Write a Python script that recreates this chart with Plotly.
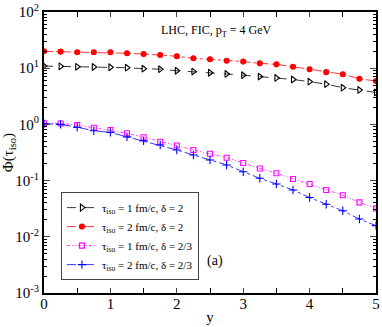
import plotly.graph_objects as go

# rapidity grid
y_vals = [0, 0.25, 0.5, 0.75, 1, 1.25, 1.5, 1.75, 2, 2.25, 2.5, 2.75, 3,
          3.25, 3.5, 3.75, 4, 4.25, 4.5, 4.75, 5]

# tau_iso = 1 fm/c, delta = 2
phi_t1_d2 = [10.9, 10.8, 10.6, 10.5, 10.4, 10.2, 9.8, 9.6, 9.0, 8.7, 8.3,
             7.9, 7.5, 7.1, 6.7, 6.3, 5.75, 5.2, 4.5, 4.1, 3.7]
# tau_iso = 2 fm/c, delta = 2
phi_t2_d2 = [20.0, 19.7, 19.2, 19.2, 19.2, 18.4, 17.9, 17.2, 16.3, 15.0, 14.4,
             13.6, 13.1, 12.2, 11.7, 10.6, 9.6, 8.5, 7.8, 6.5, 5.9]
# tau_iso = 1 fm/c, delta = 2/3
phi_t1_d23 = [1.05, 1.04, 0.975, 0.87, 0.795, 0.695, 0.59, 0.49, 0.42, 0.35,
              0.30, 0.255, 0.206, 0.164, 0.135, 0.107, 0.087, 0.068, 0.055,
              0.041, 0.032]
# tau_iso = 2 fm/c, delta = 2/3
phi_t2_d23 = [1.03, 1.0, 0.89, 0.77, 0.72, 0.60, 0.51, 0.43, 0.35, 0.285,
              0.233, 0.19, 0.144, 0.110, 0.087, 0.068, 0.050, 0.038, 0.029,
              0.0207, 0.0158]

names = ["τ<sub>iso</sub> = 1 fm/c, δ = 2",
         "τ<sub>iso</sub> = 2 fm/c, δ = 2",
         "τ<sub>iso</sub> = 1 fm/c, δ = 2/3",
         "τ<sub>iso</sub> = 2 fm/c, δ = 2/3"]

y_tickvals = [1e-3, 1e-2, 1e-1, 1, 10, 100]
y_ticktext = ["10<sup>-3</sup>", "10<sup>-2</sup>", "10<sup>-1</sup>",
              "10<sup>0</sup>", "10<sup>1</sup>", "10<sup>2</sup>"]

FONT = "Liberation Serif, Times New Roman, serif"

styles = [
    dict(color="black", dash="dash", symbol="triangle-right-open", size=6),
    dict(color="red", dash="dashdot", symbol="circle", size=5),
    dict(color="magenta", dash="3px,2px,1px,2px,1px,2px", symbol="square-open", size=5),
    dict(color="blue", dash="dashdot", symbol="cross-thin-open", size=6),
]

fig = go.Figure()
for name, data, st in zip(names, [phi_t1_d2, phi_t2_d2, phi_t1_d23, phi_t2_d23], styles):
    fig.add_trace(go.Scatter(
        x=y_vals, y=data, name=name, mode="lines+markers",
        line=dict(color=st["color"], dash=st["dash"], width=0.8),
        marker=dict(symbol=st["symbol"], size=st["size"], color=st["color"],
                    line=dict(color=st["color"], width=1.1)),
    ))

fig.add_annotation(x=2.6, y=1.66, xref="x", yref="y", text="LHC, FIC, p<sub>T</sub> = 4 GeV",
                   showarrow=False, font=dict(family=FONT, size=12, color="black"))
fig.add_annotation(x=2.58, y=-2.43, xref="x", yref="y", text="(a)",
                   showarrow=False, font=dict(family=FONT, size=14, color="black"))

fig.update_layout(
    width=382, height=327,
    margin=dict(l=44, r=6, t=12, b=34),
    paper_bgcolor="white", plot_bgcolor="white",
    font=dict(family=FONT, size=15, color="black"),
    showlegend=True,
    legend=dict(x=0.051, y=0.359, xanchor="left", yanchor="top",
                bgcolor="white", bordercolor="#444", borderwidth=1,
                font=dict(family=FONT, size=11), tracegroupgap=0,
                itemwidth=30),
)
fig.update_xaxes(
    range=[0, 5], tickvals=[0, 1, 2, 3, 4, 5], ticks="inside", ticklen=5,
    showline=True, linecolor="black", linewidth=2, mirror="allticks",
    showgrid=False, zeroline=False, automargin=False, ticklabelstandoff=-4,
    minor=dict(dtick=0.5, ticks="inside", ticklen=5, tickcolor="black"),
    title=dict(text="y", standoff=0, font=dict(size=15)),
)
fig.update_yaxes(
    type="log", range=[-3, 2], tickvals=y_tickvals, ticktext=y_ticktext,
    ticks="inside", ticklen=6, showline=True, linecolor="black", linewidth=2,
    mirror="allticks", showgrid=False, zeroline=False, automargin=False,
    minor=dict(dtick="D1", ticks="inside", ticklen=3, tickcolor="black"),
    title=dict(text="Φ(τ<sub>iso</sub>)", standoff=2, font=dict(size=15)),
)

# the page body has a default 8px margin; drop it so the figure sits at 0,0
fig.write_html("out.html", config={"displayModeBar": False},
               post_script="document.body.style.margin='0';")
